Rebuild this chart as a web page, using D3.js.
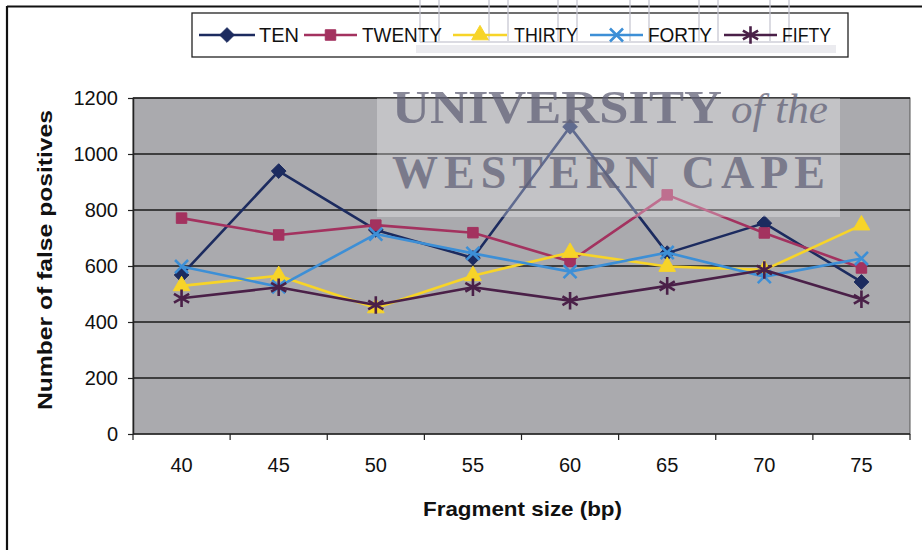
<!DOCTYPE html>
<html><head><meta charset="utf-8">
<script src="https://cdn.jsdelivr.net/npm/d3@7"></script>
<style>html,body{margin:0;padding:0;background:#fff}svg{display:block}</style>
</head><body><svg id="c" width="922" height="550"></svg>
<script>
const categories = ["40","45","50","55","60","65","70","75"];
const seriesNames = ["TEN","TWENTY","THIRTY","FORTY","FIFTY"];
const ten    = [568, 939, 729, 629, 1097, 646, 753, 543];
const twenty = [771, 711, 746, 719, 616, 854, 718, 593];
const thirty = [529, 565, 450, 565, 648, 598, 586, 746];
const forty  = [598, 526, 714, 645, 580, 648, 562, 627];
const fifty  = [485, 524, 461, 524, 476, 529, 586, 481];
const yTicks = [0, 200, 400, 600, 800, 1000, 1200];
const colors = ["#1c2b5f", "#a3325f", "#f7d428", "#3d8fd6", "#4a2048"];
const values = [ten, twenty, thirty, forty, fifty];

const svg = d3.select("#c");
const L = 133, R = 910, T = 98, B = 434;
const x = d3.scaleBand().domain(categories).range([L, R]).padding(0);
const y = d3.scaleLinear().domain([0, 1200]).range([B, T]);

// outer frame
svg.append("line").attr("x1", 7).attr("x2", 922).attr("y1", 6.5).attr("y2", 6.5).attr("stroke", "#111").attr("stroke-width", 2);
svg.append("line").attr("x1", 7).attr("x2", 7).attr("y1", 6).attr("y2", 550).attr("stroke", "#111").attr("stroke-width", 2.2);

// plot background
svg.append("rect").attr("x", L).attr("y", T).attr("width", R - L).attr("height", B - T)
  .attr("fill", "#aaaaae").attr("stroke", "#555").attr("stroke-width", 1);

// gridlines
svg.append("g").selectAll("line").data(yTicks.filter(d => d > 0)).join("line")
  .attr("x1", L).attr("x2", R).attr("y1", d => y(d)).attr("y2", d => y(d))
  .attr("stroke", "#1a1a1a").attr("stroke-width", 1.3);

// y axis
const yAxis = d3.axisLeft(y).tickValues(yTicks).tickFormat(d3.format("d")).tickSize(5).tickPadding(10).tickSizeOuter(0);
const gy = svg.append("g").attr("transform", `translate(${L},0)`).call(yAxis);
gy.select(".domain").attr("stroke", "#222").attr("stroke-width", 1.5);
gy.selectAll(".tick line").attr("stroke", "#222").attr("stroke-width", 1.2);
gy.selectAll("text").attr("font-family", "Liberation Sans, Arial, sans-serif").attr("font-size", 20).attr("fill", "#111");

// x axis: ticks at category boundaries
const gx = svg.append("g").attr("transform", `translate(0,${B})`);
gx.append("line").attr("x1", L).attr("x2", R).attr("stroke", "#222").attr("stroke-width", 1.5);
const bounds = categories.map(c => x(c)).concat([x(categories[categories.length - 1]) + x.bandwidth()]);
gx.selectAll("line.tk").data(bounds).join("line").attr("class", "tk")
  .attr("x1", d => d).attr("x2", d => d).attr("y1", 0).attr("y2", 6).attr("stroke", "#222").attr("stroke-width", 1.2);
gx.selectAll("text").data(categories).join("text")
  .attr("x", d => x(d) + x.bandwidth() / 2).attr("y", 38)
  .attr("text-anchor", "middle").attr("font-family", "Liberation Sans, Arial, sans-serif")
  .attr("font-size", 20).attr("fill", "#111").text(d => d);

// symbols
const asterisk = { draw(ctx, size) {
  const r = Math.sqrt(size) * 0.62;
  for (let k = 0; k < 3; k++) {
    const a = k * Math.PI / 3 + Math.PI / 2;
    ctx.moveTo(r * Math.cos(a), r * Math.sin(a));
    ctx.lineTo(-r * Math.cos(a), -r * Math.sin(a));
  }
}};
const xmark = { draw(ctx, size) {
  const r = Math.sqrt(size) * 0.5;
  ctx.moveTo(-r, -r); ctx.lineTo(r, r); ctx.moveTo(r, -r); ctx.lineTo(-r, r);
}};
const diamond = { draw(ctx, size) {
  const r = Math.sqrt(size) * 0.6;
  ctx.moveTo(0, -r); ctx.lineTo(r, 0); ctx.lineTo(0, r); ctx.lineTo(-r, 0); ctx.closePath();
}};
const symTypes = [diamond, d3.symbolSquare, d3.symbolTriangle, xmark, asterisk];
const symSizes = [150, 110, 120, 170, 200];
const filled = [true, true, true, false, false];

function drawMarker(g, i, cx, cy) {
  const p = d3.symbol().type(symTypes[i]).size(symSizes[i])();
  const m = g.append("path").attr("d", p).attr("transform", `translate(${cx},${cy})`);
  if (filled[i]) m.attr("fill", colors[i]).attr("stroke", colors[i]).attr("stroke-width", 1);
  else m.attr("fill", "none").attr("stroke", colors[i]).attr("stroke-width", 2.6);
}

const line = d3.line().x((d, i) => x(categories[i]) + x.bandwidth() / 2).y(d => y(d));
const gSeries = svg.append("g");
values.forEach((vals, i) => {
  const g = gSeries.append("g");
  g.append("path").datum(vals).attr("d", line).attr("fill", "none")
    .attr("stroke", colors[i]).attr("stroke-width", 2.6).attr("stroke-linejoin", "round");
  vals.forEach((v, j) => drawMarker(g, i, x(categories[j]) + x.bandwidth() / 2, y(v)));
});

// watermark overlay
svg.append("rect").attr("x", 377).attr("y", T).attr("width", 463).attr("height", 119)
  .attr("fill", "#ffffff").attr("opacity", 0.3);
const wm = svg.append("g").attr("fill", "#626278").attr("opacity", 0.75)
  .attr("font-family", "Liberation Serif, DejaVu Serif, serif").attr("font-weight", "bold");
wm.append("text").attr("x", 392).attr("y", 123).attr("font-size", 46).attr("textLength", 330)
  .attr("lengthAdjust", "spacingAndGlyphs").text("UNIVERSITY");
wm.append("text").attr("x", 731).attr("y", 123).attr("font-size", 42).attr("font-style", "italic")
  .attr("font-weight", "normal").attr("textLength", 97).attr("lengthAdjust", "spacingAndGlyphs").text("of the");
wm.append("text").attr("x", 392).attr("y", 188).attr("font-size", 46).attr("textLength", 433)
  .attr("lengthAdjust", "spacing").text("WESTERN CAPE");

// legend box
svg.append("rect").attr("x", 192).attr("y", 13).attr("width", 656).attr("height", 44)
  .attr("fill", "#fff").attr("stroke", "#222").attr("stroke-width", 1.3);

// logo pillars (watermark)
const pillars = [420, 489, 558, 630, 699, 770];
const gp = svg.append("g").attr("stroke", "#c4c4d0").attr("stroke-width", 2).attr("opacity", 0.6);
pillars.forEach(px => {
  gp.append("line").attr("x1", px).attr("x2", px).attr("y1", 0).attr("y2", 42);
  gp.append("line").attr("x1", px + 19).attr("x2", px + 19).attr("y1", 0).attr("y2", 42);
});
gp.append("line").attr("x1", 420).attr("x2", 809).attr("y1", 42).attr("y2", 42);
svg.append("rect").attr("x", 416).attr("y", 45).attr("width", 420).attr("height", 8)
  .attr("fill", "#e2e2e8").attr("opacity", 0.7);

// legend items
const legLineX = [199, 304, 453, 590, 724];
const legLineW = [56, 53, 54, 53, 53];
const legTextX = [259, 362, 514, 648, 782];
const legTextW = [40, 80, 64, 64, 49];
const lg = svg.append("g");
seriesNames.forEach((name, i) => {
  lg.append("line").attr("x1", legLineX[i]).attr("x2", legLineX[i] + legLineW[i])
    .attr("y1", 35).attr("y2", 35).attr("stroke", colors[i]).attr("stroke-width", 2.6);
  drawMarker(lg, i, legLineX[i] + legLineW[i] / 2, 35);
  lg.append("text").attr("x", legTextX[i]).attr("y", 42)
    .attr("font-family", "Liberation Sans, Arial, sans-serif").attr("font-size", 20)
    .attr("textLength", legTextW[i]).attr("lengthAdjust", "spacingAndGlyphs")
    .attr("fill", "#111").text(name);
});

// axis titles
svg.append("text").attr("x", 423).attr("y", 516)
  .attr("font-family", "Liberation Sans, Arial, sans-serif").attr("font-weight", "bold")
  .attr("font-size", 21).attr("textLength", 199).attr("lengthAdjust", "spacingAndGlyphs")
  .attr("fill", "#111").text("Fragment size (bp)");
svg.append("text").attr("transform", "translate(52,260) rotate(-90)").attr("text-anchor", "middle")
  .attr("font-family", "Liberation Sans, Arial, sans-serif").attr("font-weight", "bold")
  .attr("font-size", 21).attr("textLength", 300).attr("lengthAdjust", "spacingAndGlyphs")
  .attr("fill", "#111").text("Number of false positives");
</script></body></html>
